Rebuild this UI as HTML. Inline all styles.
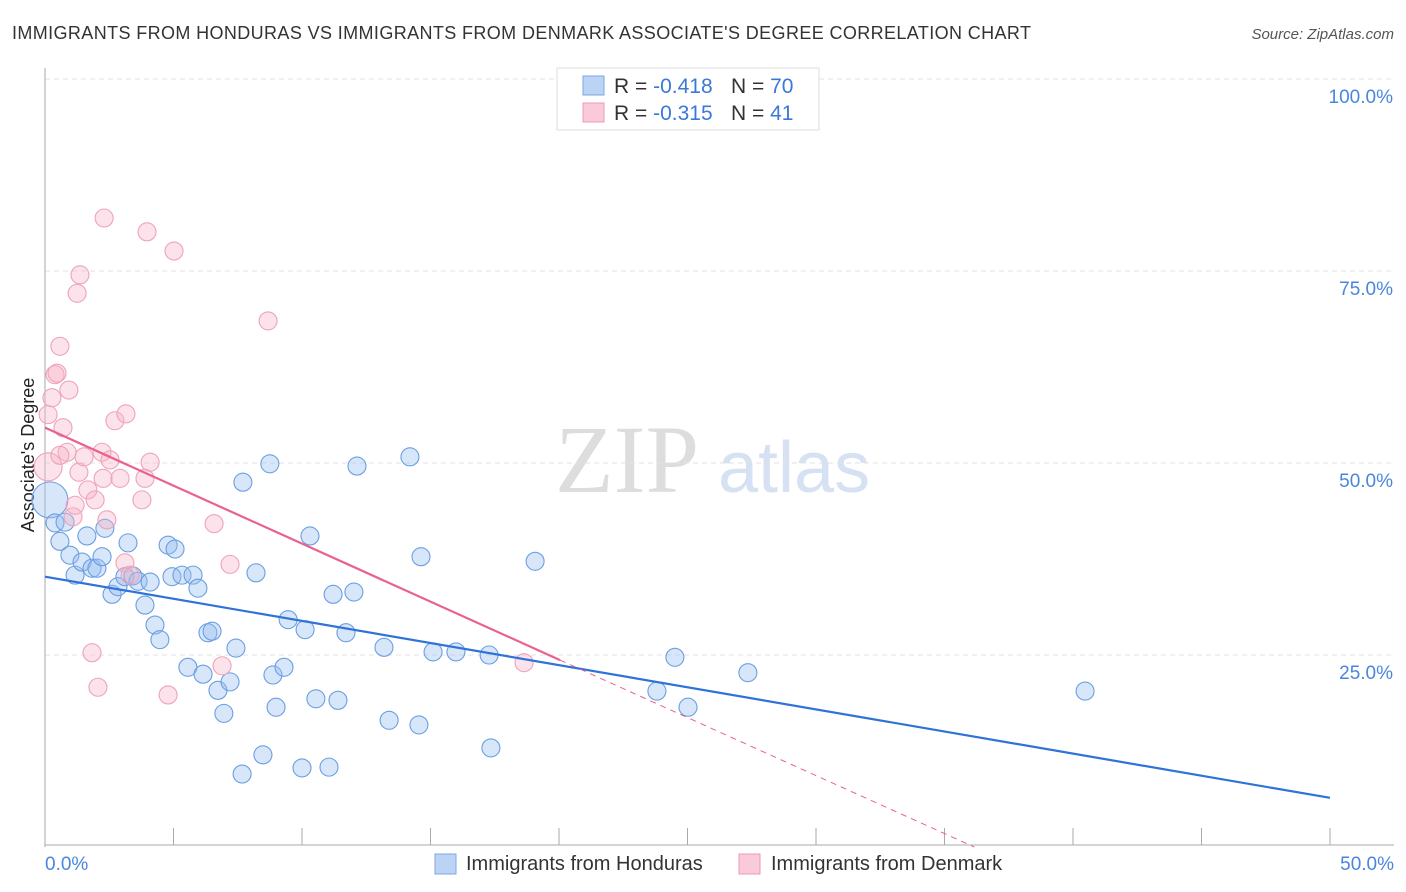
<!DOCTYPE html>
<html><head><meta charset="utf-8"><style>
body{margin:0;background:#fff;font-family:"Liberation Sans",sans-serif;}
svg{display:block}
</style></head><body>
<svg id="chart" width="1406" height="892">
<text x="12" y="39" font-size="18" fill="#333" textLength="1019">IMMIGRANTS FROM HONDURAS VS IMMIGRANTS FROM DENMARK ASSOCIATE'S DEGREE CORRELATION CHART</text>
<text x="1394" y="39" font-size="15" fill="#555" font-style="italic" text-anchor="end">Source: ZipAtlas.com</text>
<text x="34" y="455" font-size="18" fill="#222" text-anchor="middle" transform="rotate(-90 34 455)">Associate's Degree</text>
<text x="555" y="492" font-size="96" fill="#ddd" font-family="Liberation Serif,serif">ZIP</text>
<text x="718" y="492" font-size="72" fill="#d6e2f3">atlas</text>
<g id="grid"></g><g id="axes"></g><g id="pts"></g><g id="lines"></g>
<g>
<rect x="557" y="68" width="262" height="62" fill="#fff" stroke="#ddd"/>
<rect x="583" y="76" width="21" height="19" fill="#bcd4f4" stroke="#7aa7e6"/>
<rect x="583" y="103" width="21" height="19" fill="#fbcad8" stroke="#ee9ab4"/>
<text x="614" y="93" font-size="21" fill="#333">R = <tspan fill="#3b78d8">-0.418</tspan><tspan x="731">N = </tspan><tspan fill="#3b78d8">70</tspan></text>
<text x="614" y="120" font-size="21" fill="#333">R = <tspan fill="#3b78d8">-0.315</tspan><tspan x="731">N = </tspan><tspan fill="#3b78d8"> 41</tspan></text>
</g>
<g>
<rect x="435" y="854" width="21" height="20" fill="#bcd4f4" stroke="#7aa7e6"/>
<text x="466" y="870" font-size="20" fill="#333">Immigrants from Honduras</text>
<rect x="739" y="854" width="21" height="20" fill="#fbcad8" stroke="#ee9ab4"/>
<text x="771" y="870" font-size="20" fill="#333">Immigrants from Denmark</text>
</g>
</svg>
<script>
const yTicks=[25,50,75,100];
const yTickLabels=["25.0%","50.0%","75.0%","100.0%"];
const xTickLabels=["0.0%","50.0%"];
const bluePx=[[50,500],[55,523],[60,541],[65,522],[70,555],[75,575],[82,562],[87,536],[92,568],[97,568],[102,557],[105,528],[112,594],[118,587],[125,577],[128,543],[133,576],[138,581],[145,605],[150,582],[155,625],[160,640],[168,545],[172,577],[175,549],[182,575],[188,667],[193,575],[198,588],[203,674],[208,633],[212,631],[218,690],[224,713],[230,682],[236,648],[242,774],[243,482],[256,573],[263,755],[270,464],[273,675],[276,707],[284,667],[288,620],[302,768],[305,630],[310,536],[316,699],[329,767],[333,594],[338,700],[346,633],[354,592],[357,466],[384,647],[389,720],[410,457],[419,725],[421,557],[433,652],[456,652],[489,655],[491,748],[535,561],[657,691],[675,657],[688,707],[748,673],[1085,691]];
const pinkPx=[[48,467],[48,415],[52,398],[55,375],[57,373],[60,346],[63,428],[67,452],[69,390],[73,517],[75,505],[77,293],[79,472],[80,275],[84,457],[88,490],[92,653],[98,687],[102,452],[103,478],[104,218],[107,520],[115,421],[120,478],[125,563],[126,414],[130,575],[142,500],[145,478],[147,232],[150,462],[168,695],[174,251],[214,524],[222,666],[230,564],[268,321],[524,663],[110,460],[60,455],[95,500]];
// data values (x %, y %)
const blueX=bluePx.map(p=>+((p[0]-45)/25.7).toFixed(2));
const blueY=bluePx.map(p=>+((847-p[1])/7.68).toFixed(1));
const pinkX=pinkPx.map(p=>+((p[0]-45)/25.7).toFixed(2));
const pinkY=pinkPx.map(p=>+((847-p[1])/7.68).toFixed(1));
const blueTrend=[35.2,6.4];   // y at x=0, x=50
const pinkTrend=[54.6,-1.51]; // intercept, slope
const X=v=>45+v*25.7, Y=v=>847-v*7.68;
const ns="http://www.w3.org/2000/svg";
function mk(t,a,p){const e=document.createElementNS(ns,t);for(const k in a)e.setAttribute(k,a[k]);p.appendChild(e);return e;}
const grid=document.getElementById('grid'),axes=document.getElementById('axes');
yTicks.forEach((t,i)=>{
 const l=mk('line',{x1:45,x2:1394,y1:Y(t),y2:Y(t),stroke:'#e2e2e2','stroke-dasharray':'5,4'},grid);
 
 
 const tx=mk('text',{x:1393,y:Y(t)+24,'font-size':19,fill:'#4a86dc','text-anchor':'end'},axes);tx.textContent=yTickLabels[i];
 
 
});
let a=mk('line',{x1:45,x2:45,y1:68,y2:847,stroke:'#aaa'},axes);


a=mk('line',{x1:45,x2:1394,y1:845,y2:845,stroke:'#aaa'},axes);


for(let i=0;i<=10;i++){const v=i*5;const t=mk('line',{x1:X(v),x2:X(v),y1:828,y2:845,stroke:'#aaa'},axes);
 
 }
[[0,'start',45],[50,'end',1394]].forEach((d,i)=>{const t=mk('text',{x:d[2],y:870,'font-size':19,fill:'#4a86dc','text-anchor':d[1]},axes);t.textContent=xTickLabels[i];
 
 });
const pts=document.getElementById('pts');
blueX.forEach((x,i)=>{const c=mk('circle',{cx:X(x),cy:Y(blueY[i]),r:i==0?18:9,fill:'rgba(150,190,240,0.38)',stroke:'#6a9fe2','stroke-width':1.1},pts);
 
 });
pinkX.forEach((x,i)=>{const c=mk('circle',{cx:X(x),cy:Y(pinkY[i]),r:i==0?14:9,fill:'rgba(248,180,200,0.38)',stroke:'#eea3b9','stroke-width':1.1},pts);
 
 });
const L=document.getElementById('lines');
let t=mk('line',{x1:X(0),y1:Y(blueTrend[0]),x2:X(50),y2:Y(blueTrend[1]),stroke:'#2f72d8','stroke-width':2.2},L);


const pe=20.04,pz=-pinkTrend[0]/pinkTrend[1];
t=mk('line',{x1:X(0),y1:Y(pinkTrend[0]),x2:X(pe),y2:Y(pinkTrend[0]+pinkTrend[1]*pe),stroke:'#e8628d','stroke-width':2.2},L);


t=mk('line',{x1:X(pe),y1:Y(pinkTrend[0]+pinkTrend[1]*pe),x2:X(pz),y2:Y(0),stroke:'#e8628d','stroke-width':1,'stroke-dasharray':'6,5'},L);


</script>
</body></html>
